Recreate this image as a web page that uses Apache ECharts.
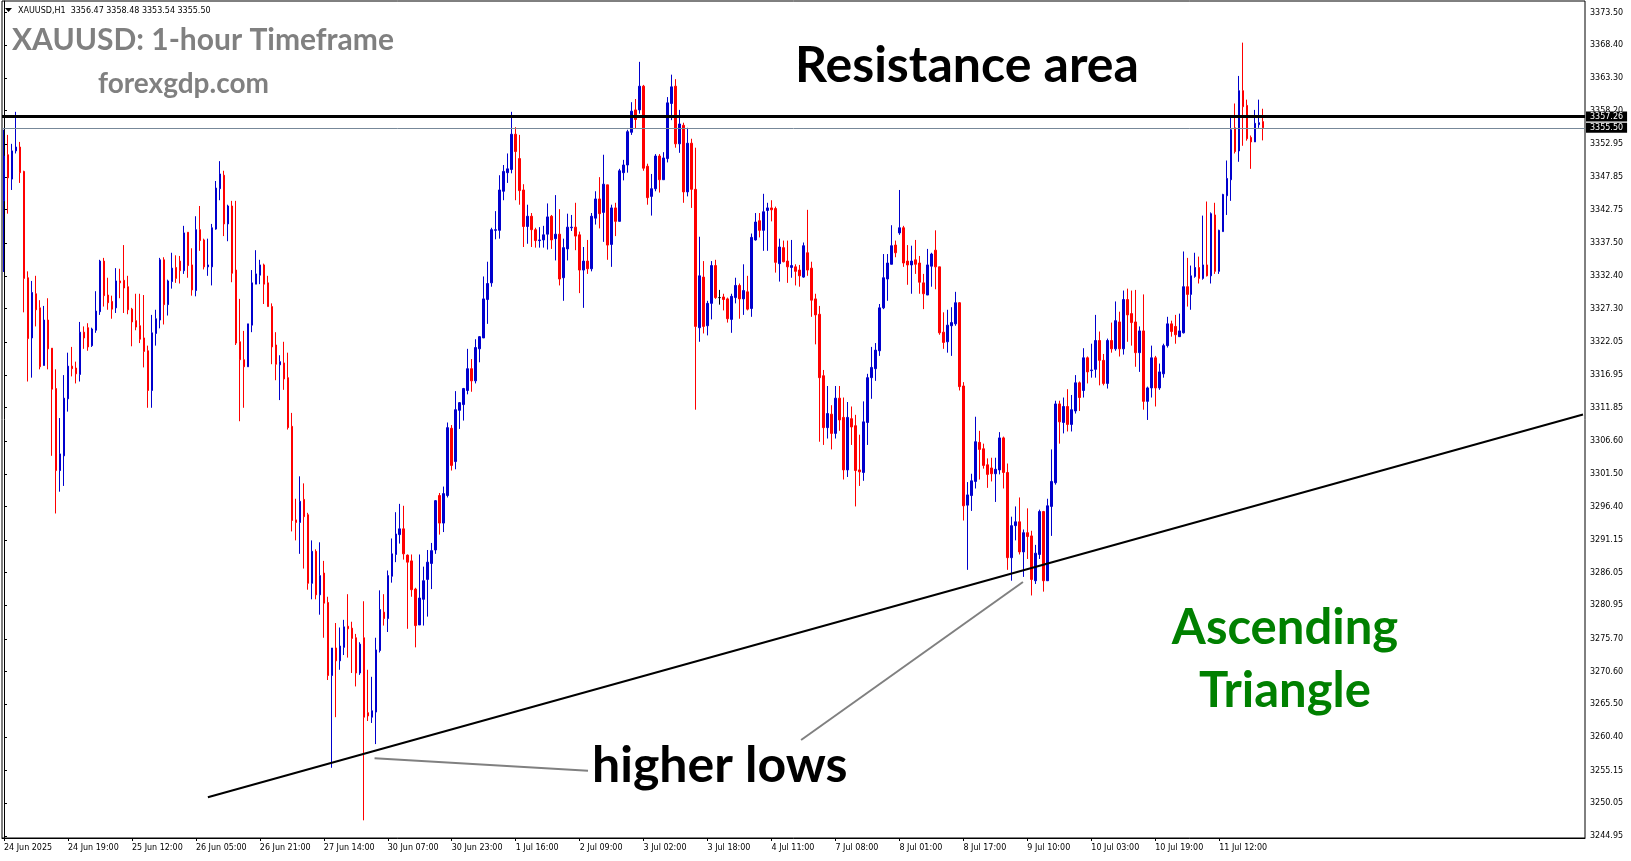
<!DOCTYPE html>
<html><head><meta charset="utf-8">
<script src="https://cdn.jsdelivr.net/npm/echarts@6/dist/echarts.min.js"></script>
<style>html,body{margin:0;padding:0;background:#fff}#c{width:1631px;height:861px}</style>
</head><body><div id="c"></div>
<script>
// ---- Data (XAUUSD H1) ----
const opens = [3344.1,3351.3,3347.5,3351.9,3352.5,3348.7,3332.1,3322.7,3329.6,3327.4,
3318.4,3325.5,3321.1,3314.8,3302.0,3304.3,3313.2,3318.3,3318.0,3317.0,
3323.6,3324.3,3321.5,3323.9,3326.8,3334.7,3329.4,3328.4,3327.4,3331.6,
3331.7,3330.7,3327.2,3325.4,3324.6,3322.7,3320.7,3314.5,3323.4,3325.5,
3334.9,3327.9,3331.5,3333.7,3334.7,3333.2,3339.2,3334.1,3330.1,3339.6,
3338.0,3333.8,3333.8,3339.7,3346.0,3348.1,3340.5,3343.3,3333.3,3322.1,
3319.3,3318.2,3324.7,3331.1,3332.5,3334.1,3331.3,3327.6,3321.6,3318.5,
3318.8,3316.5,3308.9,3294.3,3293.9,3297.5,3295.1,3284.4,3289.4,3282.6,
3286.0,3281.4,3270.0,3274.3,3272.3,3274.4,3277.7,3277.4,3275.9,3270.4,
3275.9,3264.2,3263.5,3264.3,3273.9,3279.9,3278.9,3285.5,3288.9,3292.0,
3292.9,3288.8,3287.9,3283.5,3277.9,3281.9,3285.0,3287.5,3289.6,3298.1,
3293.8,3298.1,3308.6,3303.4,3311.4,3312.3,3314.5,3317.9,3316.0,3321.0,
3322.7,3328.7,3331.3,3339.5,3339.5,3345.6,3348.5,3349.0,3354.5,3350.7,
3345.8,3340.1,3341.7,3339.6,3337.9,3338.0,3338.9,3341.7,3338.2,3338.9,
3332.1,3336.6,3339.9,3340.0,3338.8,3333.3,3334.7,3333.5,3341.4,3344.4,
3342.3,3346.6,3337.3,3343.0,3340.9,3348.5,3349.7,3354.8,3358.3,3358.3,
3362.0,3349.5,3344.8,3346.0,3351.1,3347.4,3350.7,3359.3,3362.0,3353.0,
3355.9,3345.5,3353.1,3345.9,3324.3,3332.2,3324.6,3328.1,3334.0,3329.0,
3329.1,3328.8,3325.6,3329.0,3330.9,3328.8,3329.9,3327.3,3338.0,3341.0,
3339.5,3342.6,3343.0,3342.9,3334.3,3336.8,3334.7,3333.7,3333.8,3333.3,
3332.2,3336.0,3333.6,3328.8,3326.4,3316.8,3308.7,3310.8,3307.8,3313.3,
3310.3,3302.1,3310.1,3309.0,3302.1,3301.7,3309.5,3316.5,3317.9,3320.7,
3327.4,3331.9,3334.2,3337.2,3339.1,3339.9,3334.7,3334.1,3334.9,3334.4,
3331.3,3329.4,3333.9,3336.4,3333.8,3323.6,3322.1,3324.6,3324.9,3328.2,
3315.2,3296.6,3298.1,3300.3,3306.4,3305.4,3302.9,3302.4,3301.5,3302.1,
3307.1,3301.7,3288.4,3293.4,3294.0,3289.3,3292.3,3291.8,3284.8,3288.9,
3295.6,3284.8,3296.4,3300.1,3312.4,3309.5,3312.0,3309.2,3311.3,3315.7,
3314.5,3319.6,3317.6,3317.8,3322.3,3319.2,3315.6,3322.3,3321.0,3325.2,
3321.0,3328.7,3326.5,3325.2,3320.4,3323.8,3312.8,3314.9,3319.6,3314.9,
3317.1,3321.5,3324.9,3324.5,3322.9,3323.5,3330.7,3329.5,3332.3,3333.7,
3332.0,3334.1,3332.4,3341.9,3333.1,3339.3,3344.9,3347.4,3355.5,3351.9,
3361.3,3359.0,3354.0,3353.3,3356.0,3356.47];
const closes = [3351.1,3347.7,3351.9,3352.5,3348.5,3332.0,3322.6,3329.8,3327.1,3318.2,
3325.5,3321.0,3314.7,3302.0,3304.6,3313.3,3318.3,3317.9,3317.1,3323.6,
3322.7,3321.3,3324.1,3326.9,3334.7,3329.3,3328.2,3327.2,3331.6,3331.3,
3330.5,3327.1,3325.2,3324.4,3322.5,3320.6,3314.5,3323.5,3325.7,3334.9,
3327.9,3331.6,3333.6,3332.0,3333.2,3339.1,3334.0,3330.2,3339.6,3337.9,
3333.8,3334.1,3339.9,3346.1,3348.3,3340.5,3343.3,3332.8,3321.9,3319.3,
3318.2,3324.9,3331.3,3332.7,3334.1,3331.1,3327.6,3321.3,3318.6,3319.0,
3316.3,3308.7,3294.2,3293.9,3297.2,3294.8,3284.4,3289.4,3282.6,3285.6,
3281.3,3270.0,3274.3,3272.3,3274.6,3277.6,3277.3,3275.8,3270.4,3274.9,
3263.5,3263.7,3264.5,3274.0,3280.3,3278.9,3285.6,3289.0,3292.1,3292.9,
3289.0,3287.7,3283.4,3277.8,3282.1,3284.8,3287.7,3289.5,3297.3,3293.8,
3298.4,3308.7,3302.8,3311.5,3312.6,3314.8,3317.9,3316.0,3321.2,3322.9,
3328.8,3331.2,3339.6,3339.6,3345.8,3348.7,3349.1,3354.5,3351.8,3345.7,
3340.1,3341.7,3339.6,3337.9,3338.0,3338.8,3341.6,3338.0,3338.9,3331.9,
3336.8,3340.0,3340.0,3338.6,3333.3,3334.7,3333.5,3341.7,3344.4,3342.1,
3346.7,3337.2,3343.0,3340.9,3348.8,3349.7,3354.9,3358.1,3356.8,3362.0,
3349.2,3344.6,3346.0,3351.1,3347.4,3350.8,3359.4,3361.9,3353.0,3356.1,
3345.5,3353.1,3345.9,3324.5,3332.4,3324.5,3328.1,3334.0,3329.0,3329.0,
3328.7,3325.7,3329.2,3330.9,3328.8,3330.1,3327.2,3338.4,3340.8,3339.5,
3342.4,3343.0,3342.7,3334.5,3336.9,3334.6,3333.8,3334.0,3333.1,3332.4,
3337.1,3333.3,3328.6,3326.3,3316.5,3308.7,3310.9,3307.8,3313.3,3309.9,
3302.1,3310.3,3308.8,3302.0,3301.8,3309.6,3316.5,3318.1,3320.8,3327.4,
3332.1,3334.4,3337.1,3336.0,3339.9,3334.4,3334.1,3334.7,3334.2,3331.4,
3329.6,3334.1,3335.8,3333.8,3323.5,3322.0,3324.7,3325.1,3328.2,3315.1,
3296.5,3298.2,3300.4,3306.5,3305.3,3302.8,3301.4,3301.5,3302.2,3307.1,
3301.7,3288.4,3293.4,3294.0,3289.3,3292.3,3291.7,3285.0,3289.1,3295.6,
3284.8,3296.5,3300.3,3312.4,3309.6,3312.0,3309.2,3311.5,3315.7,3313.4,
3319.6,3317.4,3317.7,3322.3,3319.2,3315.6,3322.3,3321.0,3325.4,3321.0,
3328.7,3326.3,3325.1,3320.4,3323.8,3312.8,3314.9,3319.6,3314.9,3317.4,
3321.5,3324.9,3323.7,3323.2,3323.8,3330.7,3329.5,3332.4,3333.7,3332.0,
3334.1,3332.4,3342.1,3333.1,3339.5,3345.1,3347.6,3355.2,3351.8,3361.3,
3358.8,3353.8,3353.3,3356.2,3356.3,3355.50];
const lows = [3333.0,3342.1,3345.8,3351.5,3346.9,3326.7,3315.9,3316.5,3324.5,3317.8,
3318.4,3317.8,3304.3,3295.3,3298.7,3299.6,3311.2,3316.7,3315.6,3315.9,
3321.0,3320.7,3321.3,3323.5,3326.3,3327.6,3327.1,3325.7,3326.6,3328.9,
3326.6,3326.4,3321.4,3323.9,3321.9,3318.1,3311.8,3311.8,3321.5,3324.2,
3324.8,3326.2,3330.4,3331.3,3331.2,3332.7,3332.1,3329.3,3329.2,3336.3,
3333.4,3332.4,3330.9,3339.6,3344.2,3338.6,3337.8,3331.4,3321.6,3309.7,
3311.8,3318.2,3323.6,3331.1,3331.1,3328.0,3327.6,3318.6,3316.1,3313.0,
3314.6,3308.4,3292.5,3291.1,3289.0,3286.7,3283.4,3281.9,3281.9,3279.5,
3275.9,3269.3,3255.6,3263.5,3270.9,3273.2,3272.8,3270.4,3268.3,3270.1,
3247.4,3262.9,3262.6,3259.3,3273.6,3277.8,3276.8,3284.5,3287.7,3290.6,
3288.1,3277.3,3282.3,3274.4,3277.9,3277.8,3279.2,3283.5,3289.0,3292.0,
3292.4,3297.8,3302.0,3302.2,3308.5,3309.8,3313.9,3314.3,3315.6,3318.9,
3322.7,3324.9,3330.7,3338.1,3338.2,3344.2,3346.9,3348.4,3344.2,3343.5,
3336.9,3337.4,3336.9,3336.8,3336.8,3336.8,3336.5,3336.6,3334.8,3330.9,
3328.5,3334.8,3339.4,3336.4,3329.7,3327.4,3332.7,3333.1,3340.4,3339.8,
3337.7,3334.9,3333.8,3338.6,3340.9,3347.3,3348.5,3354.4,3355.4,3357.7,
3348.8,3343.5,3341.8,3345.6,3345.4,3347.4,3350.1,3356.7,3352.4,3351.6,
3343.8,3344.8,3343.0,3311.5,3322.1,3323.4,3323.1,3325.6,3328.8,3327.9,
3327.0,3325.1,3323.5,3328.1,3325.7,3326.3,3327.0,3326.0,3337.9,3338.4,
3336.3,3336.3,3340.9,3332.9,3331.5,3334.5,3331.3,3332.1,3330.9,3330.7,
3332.1,3332.4,3326.0,3321.7,3306.5,3306.0,3307.0,3305.3,3307.0,3308.2,
3300.6,3301.0,3306.0,3296.4,3299.6,3300.4,3306.0,3313.2,3316.0,3319.9,
3327.2,3328.5,3334.2,3335.3,3338.8,3333.8,3331.0,3329.6,3332.7,3329.6,
3327.2,3329.4,3330.7,3330.3,3323.2,3321.0,3320.4,3319.9,3324.6,3314.5,
3294.2,3286.5,3295.7,3299.2,3300.6,3302.3,3299.3,3300.3,3297.1,3301.4,
3299.2,3286.5,3284.8,3291.1,3288.9,3285.4,3288.2,3282.5,3284.3,3288.2,
3283.1,3284.8,3291.8,3299.8,3306.2,3307.8,3308.1,3308.1,3310.9,3311.3,
3313.4,3315.6,3316.5,3316.5,3315.3,3315.3,3314.8,3320.4,3320.7,3319.8,
3320.1,3322.1,3321.5,3318.2,3317.4,3311.5,3309.9,3313.4,3312.0,3314.6,
3316.5,3321.2,3322.9,3321.8,3322.9,3323.4,3327.6,3327.1,3332.1,3331.2,
3331.8,3332.3,3331.2,3332.7,3332.7,3339.3,3341.9,3344.1,3351.5,3350.2,
3352.7,3353.5,3349.1,3353.3,3355.5,3353.54];
const highs = [3355.2,3354.4,3353.0,3358.0,3353.3,3348.8,3333.1,3331.6,3332.4,3328.6,
3327.7,3328.9,3321.1,3317.8,3310.2,3316.9,3320.4,3321.3,3319.0,3325.2,
3324.5,3325.0,3324.3,3330.0,3334.9,3335.2,3332.1,3329.3,3333.6,3333.5,
3337.2,3332.4,3327.4,3329.6,3329.6,3329.4,3321.5,3326.3,3327.1,3335.2,
3335.3,3331.8,3336.0,3335.6,3335.5,3340.2,3339.2,3336.7,3341.7,3343.3,
3338.2,3338.2,3340.5,3347.2,3350.3,3348.8,3343.5,3344.1,3344.1,3328.8,
3323.8,3324.9,3333.3,3336.4,3334.9,3334.3,3332.4,3328.1,3323.6,3320.0,
3322.1,3320.4,3311.0,3297.6,3301.1,3300.0,3295.4,3291.1,3289.7,3290.8,
3287.9,3282.3,3274.3,3278.2,3277.5,3278.7,3282.7,3278.4,3276.5,3275.2,
3281.6,3270.9,3269.8,3275.9,3283.3,3282.7,3286.4,3291.4,3295.5,3296.8,
3296.5,3288.9,3288.9,3283.7,3288.9,3287.0,3289.6,3290.7,3297.4,3298.5,
3299.5,3309.5,3309.1,3314.4,3312.7,3314.9,3321.0,3319.4,3322.5,3323.0,
3332.3,3334.6,3339.9,3342.5,3348.1,3349.7,3351.5,3358.0,3355.6,3354.4,
3346.7,3343.5,3342.2,3339.9,3340.0,3340.2,3343.7,3341.9,3345.0,3342.8,
3338.2,3342.1,3341.9,3343.8,3339.3,3336.9,3338.0,3342.2,3345.6,3347.8,
3351.3,3346.6,3343.5,3343.8,3349.1,3350.5,3355.2,3359.5,3360.0,3365.8,
3362.2,3349.9,3348.3,3351.4,3351.4,3351.7,3360.3,3363.8,3363.1,3358.3,
3356.3,3355.5,3353.8,3352.4,3338.5,3334.7,3328.5,3334.7,3334.9,3330.2,
3329.6,3329.0,3329.6,3332.1,3331.2,3334.2,3332.4,3339.0,3342.2,3342.2,
3345.2,3343.8,3344.2,3343.2,3338.2,3337.9,3337.9,3338.0,3334.2,3334.1,
3337.6,3342.7,3334.6,3329.6,3327.7,3317.7,3315.2,3312.2,3315.2,3315.2,
3313.4,3312.7,3312.0,3310.7,3307.6,3312.8,3317.1,3321.3,3321.9,3328.0,
3335.8,3335.8,3340.3,3337.9,3345.8,3340.2,3337.2,3337.1,3338.0,3335.5,
3332.7,3336.6,3336.0,3339.5,3333.8,3326.7,3327.1,3327.5,3329.9,3328.3,
3315.8,3300.2,3301.5,3310.4,3308.2,3306.2,3303.9,3304.0,3304.0,3308.0,
3307.3,3303.1,3294.8,3296.4,3297.8,3292.8,3296.1,3292.6,3290.4,3295.9,
3295.7,3297.6,3305.3,3312.9,3312.9,3313.4,3314.7,3313.8,3316.9,3315.9,
3321.1,3319.8,3321.8,3326.3,3323.7,3320.2,3322.6,3325.1,3328.4,3326.8,
3330.1,3330.4,3330.1,3330.2,3324.5,3329.5,3315.1,3321.5,3319.9,3318.7,
3321.8,3326.0,3325.4,3326.3,3326.5,3336.2,3335.2,3334.0,3336.0,3335.4,
3341.8,3344.0,3342.3,3343.8,3339.6,3345.2,3350.4,3357.1,3359.3,3363.6,
3368.8,3359.9,3354.3,3358.3,3359.9,3358.48];

const timeTicks = ['24 Jun 2025','24 Jun 19:00','25 Jun 12:00','26 Jun 05:00','26 Jun 21:00',
  '27 Jun 14:00','30 Jun 07:00','30 Jun 23:00','1 Jul 16:00','2 Jul 09:00','3 Jul 02:00',
  '3 Jul 18:00','4 Jul 11:00','7 Jul 08:00','8 Jul 01:00','8 Jul 17:00','9 Jul 10:00',
  '10 Jul 03:00','10 Jul 19:00','11 Jul 12:00'];
const priceTicks = [3373.50,3368.40,3363.30,3358.20,3352.95,3347.85,3342.75,3337.50,3332.40,
  3327.30,3322.05,3316.95,3311.85,3306.60,3301.50,3296.40,3291.15,3286.05,3280.95,3275.70,
  3270.60,3265.50,3260.40,3255.15,3250.05,3244.95];
const resistanceLevel = 3357.26;
const bidPrice = 3355.50;
const trendLine = [[51, 3251.01], [395, 3310.75]];          // [bar index, price]
const pointerLows1 = [[92.7, 3257.08], [146.1, 3255.13]];
const pointerLows2 = [[199.4, 3259.93], [254.9, 3284.6]];
const BARS_PER_TICK = 16;
const SLOTS = 396;

// ---- Chart ----
const chart = echarts.init(document.getElementById('c'), null, {renderer: 'canvas'});
const cats = Array.from({length: SLOTS}, (_, i) => String(i));
const candles = opens.map((o, i) => [o, closes[i], lows[i], highs[i]]);
const showTick = (idx) => idx % BARS_PER_TICK === 0 && idx / BARS_PER_TICK < timeTicks.length;
const last = opens.length - 1;
const header = 'XAUUSD,H1  ' + opens[last].toFixed(2) + ' ' + highs[last].toFixed(2) + ' ' +
  lows[last].toFixed(2) + ' ' + closes[last].toFixed(2);
const axisFont = {fontFamily: 'DejaVu Sans', fontSize: 8, color: '#000'};
const bigFont = 'Lato';

const option = {
  animation: false,
  backgroundColor: '#fff',
  grid: {left: 2, right: 46, top: 1, bottom: 23, show: true, borderColor: '#000', borderWidth: 1, backgroundColor: 'transparent'},
  xAxis: [{
    type: 'category', data: cats, boundaryGap: true,
    axisLine: {lineStyle: {color: '#000', width: 1}},
    axisTick: {show: true, interval: showTick, alignWithLabel: true, length: 3, lineStyle: {color: '#000'}},
    axisLabel: Object.assign({interval: showTick, align: 'left', margin: 6,
      formatter: (v) => timeTicks[Number(v) / BARS_PER_TICK]}, axisFont),
    splitLine: {show: false}
  }, {
    type: 'value', min: -0.5, max: SLOTS - 0.5, show: false
  }],
  yAxis: {
    type: 'value', position: 'right', min: 3244.64, max: 3375.30,
    axisLine: {show: true, lineStyle: {color: '#000', width: 1}},
    axisTick: {show: true, length: 3, customValues: priceTicks, lineStyle: {color: '#000'}},
    axisLabel: Object.assign({customValues: priceTicks, margin: 5, formatter: (v) => Number(v).toFixed(2)}, axisFont),
    splitLine: {show: false}
  },
  series: [{
    type: 'candlestick', data: candles, barWidth: 2,
    itemStyle: {color: '#0000CD', color0: '#FF0000', borderColor: '#0000CD', borderColor0: '#FF0000', borderColorDoji: '#000', borderWidth: 1},
    markLine: {
      silent: true, symbol: ['none', 'none'], animation: false,
      data: [
        {yAxis: resistanceLevel, lineStyle: {color: '#000', width: 3, type: 'solid'},
         label: {show: true, position: 'end', distance: 1, formatter: resistanceLevel.toFixed(2), backgroundColor: '#000', color: '#fff', fontFamily: 'DejaVu Sans', fontSize: 8, lineHeight: 8, padding: [1, 4]}},
        {yAxis: bidPrice, lineStyle: {color: '#778899', width: 1, type: 'solid'},
         label: {show: true, position: 'end', distance: 1, formatter: bidPrice.toFixed(2), backgroundColor: '#000', color: '#fff', fontFamily: 'DejaVu Sans', fontSize: 8, lineHeight: 8, padding: [1, 4]}}
      ]
    }
  }, {
    type: 'line', xAxisIndex: 1, data: trendLine, symbol: 'none', silent: true, z: 5,
    lineStyle: {color: '#000', width: 2}
  }, {
    type: 'line', xAxisIndex: 1, data: pointerLows1, symbol: 'none', silent: true, z: 5,
    lineStyle: {color: '#808080', width: 2}
  }, {
    type: 'line', xAxisIndex: 1, data: pointerLows2, symbol: 'none', silent: true, z: 5,
    lineStyle: {color: '#808080', width: 2}
  }],
  graphic: [
    {type: 'polygon', shape: {points: [[5, 8], [12, 8], [8.5, 12]]}, style: {fill: '#000'}},
    {type: 'text', x: 18, y: 11, style: {text: header, font: '8px "DejaVu Sans"', fill: '#000', verticalAlign: 'middle'}},
    {type: 'text', x: 12, y: 40, style: {text: 'XAUUSD: 1-hour Timeframe', font: 'bold 30px ' + bigFont, fill: '#808080', verticalAlign: 'middle'}},
    {type: 'text', x: 98, y: 84, style: {text: 'forexgdp.com', font: 'bold 28px ' + bigFont, fill: '#808080', verticalAlign: 'middle'}},
    {type: 'text', x: 795, y: 66, style: {text: 'Resistance area', font: 'bold 50px ' + bigFont, fill: '#000', verticalAlign: 'middle'}},
    {type: 'text', x: 592, y: 766, style: {text: 'higher lows', font: 'bold 50px ' + bigFont, fill: '#000', verticalAlign: 'middle'}},
    {type: 'text', x: 1285, y: 628, style: {text: 'Ascending', font: 'bold 49px ' + bigFont, fill: '#008000', align: 'center', verticalAlign: 'middle'}},
    {type: 'text', x: 1285, y: 691, style: {text: 'Triangle', font: 'bold 49px ' + bigFont, fill: '#008000', align: 'center', verticalAlign: 'middle'}}
  ]
};
chart.setOption(option);
</script></body></html>
